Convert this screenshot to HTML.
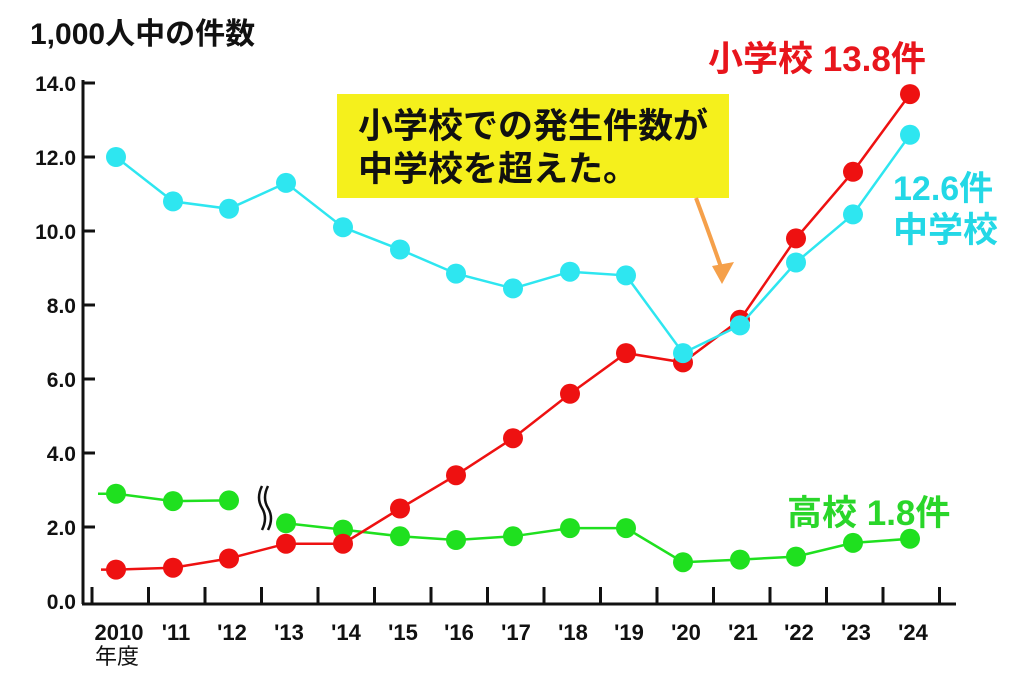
<!DOCTYPE html>
<html><head><meta charset="utf-8"><style>
body{margin:0;background:#fff;}
svg{display:block;font-family:"Liberation Sans","Noto Sans CJK JP",sans-serif;}
</style></head><body>
<svg width="1024" height="675" viewBox="0 0 1024 675">
<rect width="1024" height="675" fill="#fff"/>
<text x="30" y="44" font-size="30" font-weight="bold" fill="#111">1,000人中の件数</text>
<g stroke="#111" stroke-width="3" fill="none">
<line x1="83" y1="80" x2="83" y2="604"/>
<line x1="82" y1="604" x2="956" y2="604"/>
<line x1="83" y1="83" x2="95" y2="83"/>
<line x1="83" y1="157" x2="95" y2="157"/>
<line x1="83" y1="231" x2="95" y2="231"/>
<line x1="83" y1="305" x2="95" y2="305"/>
<line x1="83" y1="379" x2="95" y2="379"/>
<line x1="83" y1="453" x2="95" y2="453"/>
<line x1="83" y1="527" x2="95" y2="527"/>
<line x1="92" y1="587" x2="92" y2="604"/>
<line x1="148.5" y1="587" x2="148.5" y2="604"/>
<line x1="205" y1="587" x2="205" y2="604"/>
<line x1="261.5" y1="587" x2="261.5" y2="604"/>
<line x1="318" y1="587" x2="318" y2="604"/>
<line x1="374.5" y1="587" x2="374.5" y2="604"/>
<line x1="431" y1="587" x2="431" y2="604"/>
<line x1="487.5" y1="587" x2="487.5" y2="604"/>
<line x1="544" y1="587" x2="544" y2="604"/>
<line x1="600.5" y1="587" x2="600.5" y2="604"/>
<line x1="657" y1="587" x2="657" y2="604"/>
<line x1="713.5" y1="587" x2="713.5" y2="604"/>
<line x1="770" y1="587" x2="770" y2="604"/>
<line x1="826.5" y1="587" x2="826.5" y2="604"/>
<line x1="883" y1="587" x2="883" y2="604"/>
<line x1="939.5" y1="587" x2="939.5" y2="604"/>
</g>
<g font-size="21" fill="#111" text-anchor="end" font-weight="bold">
<text x="76" y="91">14.0</text><text x="76" y="165">12.0</text><text x="76" y="239">10.0</text>
<text x="76" y="313">8.0</text><text x="76" y="387">6.0</text><text x="76" y="461">4.0</text>
<text x="76" y="535">2.0</text><text x="76" y="609">0.0</text>
</g>
<g font-size="22" fill="#111" text-anchor="middle" font-weight="bold">
<text x="119" y="640">2010</text><text x="176" y="640">'11</text><text x="232" y="640">'12</text>
<text x="289" y="640">'13</text><text x="346" y="640">'14</text><text x="403" y="640">'15</text>
<text x="459" y="640">'16</text><text x="516" y="640">'17</text><text x="573" y="640">'18</text>
<text x="629" y="640">'19</text><text x="686" y="640">'20</text><text x="743" y="640">'21</text>
<text x="799" y="640">'22</text><text x="856" y="640">'23</text><text x="913" y="640">'24</text>
</g>
<text x="95" y="664" font-size="22" fill="#111">年度</text>
<path d="M262 486 q-6 12 0 22 q6 10 0 22 M268 486 q-6 12 0 22 q6 10 0 22" stroke="#111" stroke-width="2.5" fill="none"/>

<g fill="#1fe01f">
<polyline points="98,493.7 116,493.7 173,501.1 229,500.4" stroke="#1fe01f" stroke-width="2.5" fill="none"/>
<polyline points="286,523.3 343,529.6 400,536.3 456,540 513,536.3 570,528.1 626,528.1 683,562.2 740,559.6 796,556.6 853,542.9 910,538.8" stroke="#1fe01f" stroke-width="2.5" fill="none"/>
<circle cx="116" cy="493.7" r="10"/><circle cx="173" cy="501.1" r="10"/><circle cx="229" cy="500.4" r="10"/>
<circle cx="286" cy="523.3" r="10"/><circle cx="343" cy="529.6" r="10"/><circle cx="400" cy="536.3" r="10"/>
<circle cx="456" cy="540" r="10"/><circle cx="513" cy="536.3" r="10"/><circle cx="570" cy="528.1" r="10"/>
<circle cx="626" cy="528.1" r="10"/><circle cx="683" cy="562.2" r="10"/><circle cx="740" cy="559.6" r="10"/>
<circle cx="796" cy="556.6" r="10"/><circle cx="853" cy="542.9" r="10"/><circle cx="910" cy="538.8" r="10"/>
</g>
<g fill="#ee1111">
<polyline points="101,569.6 116,569.6 173,567.7 229,558.5 286,543.7 343,543.7 400,508.5 456,475.2 513,438.2 570,393.8 626,353.1 683,362.4 740,319.8 796,238.4 853,171.8 910,94.1" stroke="#ee1111" stroke-width="2.5" fill="none"/>
<circle cx="116" cy="569.6" r="10"/><circle cx="173" cy="567.7" r="10"/><circle cx="229" cy="558.5" r="10"/>
<circle cx="286" cy="543.7" r="10"/><circle cx="343" cy="543.7" r="10"/><circle cx="400" cy="508.5" r="10"/>
<circle cx="456" cy="475.2" r="10"/><circle cx="513" cy="438.2" r="10"/><circle cx="570" cy="393.8" r="10"/>
<circle cx="626" cy="353.1" r="10"/><circle cx="683" cy="362.4" r="10"/><circle cx="740" cy="319.8" r="10"/>
<circle cx="796" cy="238.4" r="10"/><circle cx="853" cy="171.8" r="10"/><circle cx="910" cy="94.1" r="10"/>
</g>
<g fill="#2ee6f0">
<polyline points="116,157 173,201.4 229,208.8 286,182.9 343,227.3 400,249.5 456,273.6 513,288.4 570,271.7 626,275.4 683,353.1 740,325.4 796,262.5 853,214.4 910,134.8" stroke="#2ee6f0" stroke-width="2.5" fill="none"/>
<circle cx="116" cy="157" r="10"/><circle cx="173" cy="201.4" r="10"/><circle cx="229" cy="208.8" r="10"/>
<circle cx="286" cy="182.9" r="10"/><circle cx="343" cy="227.3" r="10"/><circle cx="400" cy="249.5" r="10"/>
<circle cx="456" cy="273.6" r="10"/><circle cx="513" cy="288.4" r="10"/><circle cx="570" cy="271.7" r="10"/>
<circle cx="626" cy="275.4" r="10"/><circle cx="683" cy="353.1" r="10"/><circle cx="740" cy="325.4" r="10"/>
<circle cx="796" cy="262.5" r="10"/><circle cx="853" cy="214.4" r="10"/><circle cx="910" cy="134.8" r="10"/>
</g>

<rect x="337" y="94" width="392" height="104" fill="#f5f01c"/>
<text x="358" y="138" font-size="35" font-weight="bold" fill="#111">小学校での発生件数が</text>
<text x="358" y="181" font-size="35" font-weight="bold" fill="#111">中学校を超えた。</text>
<path d="M696 198 Q708 230 722 270" stroke="#f5a04a" stroke-width="4" fill="none"/>
<polygon points="712,266 734,262 722,284" fill="#f5a04a"/>
<text x="708" y="71" font-size="35" font-weight="bold" fill="#e8151c">小学校 13.8件</text>
<text x="893" y="200" font-size="34" font-weight="bold" fill="#23d8e6">12.6件</text>
<text x="893" y="242" font-size="35" font-weight="bold" fill="#23d8e6">中学校</text>
<text x="787" y="525" font-size="35" font-weight="bold" fill="#2ad62a">高校 1.8件</text>
</svg>
</body></html>
